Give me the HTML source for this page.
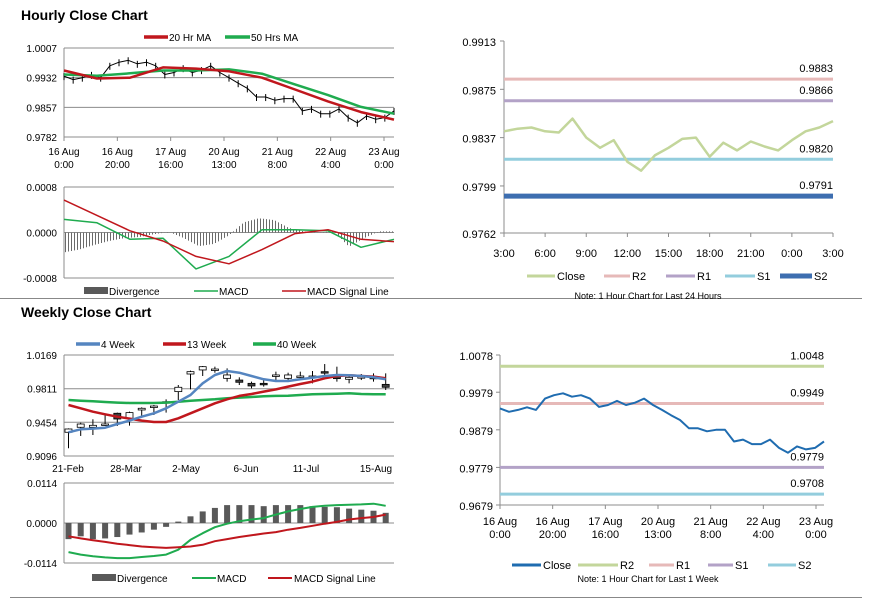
<!DOCTYPE html>
<html><head><meta charset="utf-8">
<style>
body{margin:0;background:#fff;}
svg{display:block;font-family:"Liberation Sans",Arial,sans-serif;}
text{fill:#000;}
</style></head>
<body>
<svg id="c" width="873" height="601" viewBox="0 0 873 601" xmlns="http://www.w3.org/2000/svg">
<text x="21" y="20" font-size="14" font-weight="bold">Hourly Close Chart</text>
<text x="21" y="317" font-size="14" font-weight="bold">Weekly Close Chart</text>
<line x1="0" y1="298.5" x2="862" y2="298.5" stroke="#888" stroke-width="1"/>
<line x1="10" y1="597.5" x2="862" y2="597.5" stroke="#888" stroke-width="1"/>
<g id="root"></g>
</svg>
<script>
// ---------- data ----------
const hourlyClose=[0.9936,0.9927,0.9932,0.9939,0.9932,0.9962,0.9971,0.9976,0.9967,0.9971,0.9962,0.9940,0.9945,0.9956,0.9945,0.9951,0.9962,0.9945,0.9932,0.9918,0.9905,0.9883,0.9883,0.9875,0.9879,0.9879,0.9848,0.9853,0.9841,0.9841,0.9853,0.9831,0.9818,0.9835,0.9827,0.9831,0.9848];
const ma20=[0.9950,0.9930,0.9932,0.9958,0.9955,0.9948,0.9932,0.9902,0.9872,0.9845,0.9826];
const ma50=[0.9940,0.9937,0.9943,0.9950,0.9950,0.9953,0.9942,0.9915,0.9888,0.9858,0.9841];
const hMacd=[0.00023,0.00017,-0.00012,-0.00010,-0.00064,-0.00042,0.00005,0.00005,0.00003,-0.00026,-0.00012];
const hSignal=[0.00057,0.00030,0.00003,-0.00015,-0.00042,-0.00055,-0.00030,-0.00002,0.00005,-0.00012,-0.00016];
const hDiv=[-0.00035,-0.0003,-0.00022,-0.00015,-0.0001,-0.00008,-0.00003,0.00001,-0.0001,-0.00024,-0.0002,-0.00005,0.00018,0.00025,0.00022,0.00008,0.00002,0,0.00002,-0.00025,-0.0001,0.00002,0.00002];
const hourlyXLabels=[["16 Aug","0:00"],["16 Aug","20:00"],["17 Aug","16:00"],["20 Aug","13:00"],["21 Aug","8:00"],["22 Aug","4:00"],["23 Aug","0:00"]];
const hourlyYTicks=[1.0007,0.9932,0.9857,0.9782];
const hMacdTicks=[0.0008,0,-0.0008];

const dayClose=[0.9842,0.9844,0.9845,0.9842,0.9841,0.9852,0.9837,0.9829,0.9835,0.9818,0.9811,0.9823,0.9829,0.9836,0.9837,0.9822,0.9833,0.9827,0.9834,0.9830,0.9827,0.9835,0.9842,0.9845,0.9850];
const dayLevels=[0.9883,0.9866,0.9820,0.9791];
const dayYTicks=[0.9913,0.9875,0.9837,0.9799,0.9762];
const dayXLabels=["3:00","6:00","9:00","12:00","15:00","18:00","21:00","0:00","3:00"];

const wOpen=[0.9348,0.9401,0.9401,0.9426,0.9550,0.9496,0.9585,0.9613,0.9663,0.9780,0.9967,1.0010,1.0010,0.9921,0.9903,0.9868,0.9868,0.9946,0.9921,0.9939,0.9939,0.9992,0.9939,0.9911,0.9932,0.9932,0.9857];
const wClose=[0.9383,0.9436,0.9422,0.9436,0.9489,0.9557,0.9603,0.9627,0.9673,0.9826,0.9992,1.0045,1.0020,0.9957,0.9879,0.9840,0.9861,0.9957,0.9957,0.9946,0.9946,0.9981,0.9918,0.9932,0.9939,0.9925,0.9826];
const wHigh=[0.9390,0.9450,0.9486,0.9532,0.9557,0.9567,0.9613,0.9638,0.9698,0.9850,1.0003,1.0052,1.0045,1.0027,0.9932,0.9886,0.9903,0.9992,0.9981,0.9992,0.9999,1.0073,1.0045,0.9967,0.9967,0.9974,0.9974];
const wLow=[0.9178,0.9309,0.9319,0.9415,0.9415,0.9419,0.9514,0.9532,0.9557,0.9691,0.9804,0.9946,0.9981,0.9886,0.9850,0.9815,0.9833,0.9903,0.9886,0.9903,0.9868,0.9957,0.9886,0.9868,0.9903,0.9886,0.9797];
const ma4=[0.9348,0.9380,0.9387,0.9397,0.9436,0.9472,0.9514,0.9550,0.9603,0.9673,0.9744,0.9868,0.9957,0.9999,0.9981,0.9946,0.9911,0.9893,0.9893,0.9911,0.9928,0.9946,0.9957,0.9953,0.9946,0.9932,0.9911];
const ma13=[0.9638,0.9603,0.9567,0.9539,0.9514,0.9493,0.9472,0.9457,0.9457,0.9496,0.9550,0.9603,0.9656,0.9698,0.9734,0.9755,0.9780,0.9804,0.9833,0.9861,0.9886,0.9921,0.9946,0.9953,0.9946,0.9939,0.9921];
const ma40=[0.9691,0.9684,0.9677,0.9670,0.9663,0.9659,0.9659,0.9659,0.9663,0.9673,0.9684,0.9691,0.9698,0.9709,0.9716,0.9723,0.9730,0.9734,0.9737,0.9744,0.9751,0.9755,0.9758,0.9762,0.9755,0.9751,0.9751];
const wMacd=[-0.0083,-0.0090,-0.0095,-0.0098,-0.0100,-0.0100,-0.0097,-0.0094,-0.0090,-0.0076,-0.0048,-0.0029,-0.0012,-0.0002,0.0005,0.0010,0.0014,0.0024,0.0033,0.0040,0.0046,0.0049,0.0051,0.0052,0.0053,0.0055,0.0049];
const wSignal=[-0.0038,-0.0044,-0.0049,-0.0054,-0.0059,-0.0063,-0.0067,-0.0069,-0.0071,-0.0069,-0.0067,-0.0062,-0.0052,-0.0046,-0.0040,-0.0035,-0.0030,-0.0026,-0.0019,-0.0014,-0.0008,-0.0002,0.0003,0.0010,0.0014,0.0017,0.0024];
const wDiv=[-0.0046,-0.0038,-0.0046,-0.0044,-0.0040,-0.0033,-0.0027,-0.0019,-0.0011,0.0004,0.0019,0.0033,0.0043,0.0051,0.0051,0.0051,0.0048,0.0051,0.0051,0.0051,0.0048,0.0046,0.0045,0.0041,0.0038,0.0035,0.0029];
const weeklyYTicks=[1.0169,0.9811,0.9454,0.9096];
const weeklyXLabels=["21-Feb","28-Mar","2-May","6-Jun","11-Jul","15-Aug"];
const wMacdTicks=[0.0114,0,-0.0114];

const weekLevels=[1.0048,0.9949,0.9779,0.9708];
const weekYTicks=[1.0078,0.9979,0.9879,0.9779,0.9679];

// ---------- helpers ----------
const NS="http://www.w3.org/2000/svg";
const root=document.getElementById('root');
function mk(tag,attrs,parent){const e=document.createElementNS(NS,tag);for(const k in attrs)e.setAttribute(k,attrs[k]);(parent||root).appendChild(e);return e;}
function scale(d0,d1,r0,r1){return v=>r0+(v-d0)/(d1-d0)*(r1-r0);}
function txt(x,y,s,size,anchor,name){const t=mk('text',{x:x,y:y,'font-size':size,'text-anchor':anchor||'start'});t.textContent=s;


return t;}
function line(x1,y1,x2,y2,stroke,w,name){const l=mk('line',{x1:x1,y1:y1,x2:x2,y2:y2,stroke:stroke,'stroke-width':w});


return l;}
function poly(vals,xf,yf,stroke,w,name){const p=vals.map((v,i)=>xf(i).toFixed(1)+','+yf(v).toFixed(1)).join(' ');
const e=mk('polyline',{points:p,fill:'none',stroke:stroke,'stroke-width':w,'stroke-linejoin':'round'});


return e;}
function fmt(v){return v.toFixed(4);}
const RED="#c0171d",GREEN="#1fab4f",BLUE="#5585c0",GRID="#8c8c8c";

// ---------- hourly main (top-left) ----------
{
const X0=64,X1=394;
const y=scale(0.9782,1.0007,137,48);
hourlyYTicks.forEach(t=>{line(X0,y(t),X1,y(t),GRID,1,'hourly-gridline');txt(57,y(t)+4,fmt(t),10,'end','hourly-y-tick');});
line(X0,48,X0,137,GRID,1,'hourly-y-axis');
hourlyXLabels.forEach((l,i)=>{const xx=X0+i*(X1-X0-10)/6;line(xx,137,xx,141,GRID,1,'hourly-x-tick');txt(xx,155,l[0],10,'middle','hourly-x-label');txt(xx,168,l[1],10,'middle','hourly-x-label');});
const xc=i=>X0+i*(X1-X0)/(hourlyClose.length-1);
poly(hourlyClose,xc,y,'#000',1,'hourly-close-line');
hourlyClose.forEach((v,i)=>{line(xc(i),y(v)-3,xc(i),y(v)+4,'#000',1,'hourly-candle');});
const xm=i=>X0+i*(X1-X0)/(ma20.length-1);
poly(ma50,xm,y,GREEN,2.5,'ma50-line');
poly(ma20,xm,y,RED,2.5,'ma20-line');
line(144,37,168,37,RED,3.5,'legend-ma20-swatch');txt(169,41,'20 Hr MA',10,'start','legend-ma20');
line(225,37,250,37,GREEN,3.5,'legend-ma50-swatch');txt(251,41,'50 Hrs MA',10,'start','legend-ma50');
}
// ---------- hourly MACD ----------
{
const X0=64,X1=394;
const y=scale(-0.0008,0.0008,278,187);
hMacdTicks.forEach(t=>{line(X0,y(t),X1,y(t),GRID,1,'hmacd-gridline');txt(57,y(t)+4,fmt(t),10,'end','hmacd-y-tick');});
line(X0,187,X0,278,GRID,1,'hmacd-y-axis');
for(let px=X0+1.5;px<X1;px+=3){const f=(px-X0)/(X1-X0)*(hDiv.length-1);const i=Math.min(Math.floor(f),hDiv.length-2);const v=hDiv[i]+(hDiv[i+1]-hDiv[i])*(f-i);
const b=mk('line',{x1:px,y1:y(0),x2:px,y2:y(v),stroke:'#6a6a6a','stroke-width':1});

}
const xm=i=>X0+i*(X1-X0)/(hMacd.length-1);
poly(hMacd,xm,y,GREEN,1.5,'hmacd-line');
poly(hSignal,xm,y,RED,1.5,'hsignal-line');
mk('rect',{x:84,y:287,width:24,height:7,fill:'#595959',});
txt(109,295,'Divergence',10,'start','legend-hdiv');
line(194,291,218,291,GREEN,1.5,'legend-hmacd-swatch');txt(219,295,'MACD',10,'start','legend-hmacd');
line(282,291,306,291,RED,1.5,'legend-hsignal-swatch');txt(307,295,'MACD Signal Line',10,'start','legend-hsignal');
}
// ---------- 24h chart (top-right) ----------
{
const X0=504,X1=833;
const y=scale(0.9762,0.9913,233,41);
line(X0,41,X0,233,GRID,1,'day-y-axis');line(X0,233,X1,233,GRID,1,'day-x-axis');
dayYTicks.forEach(t=>{line(X0-4,y(t),X0,y(t),GRID,1,'day-y-tickmark');txt(496,y(t)+5,fmt(t),11,'end','day-y-tick');});
dayXLabels.forEach((l,i)=>{const xx=X0+i*(X1-X0)/8;line(xx,233,xx,237,GRID,1,'day-x-tickmark');txt(xx,257,l,11,'middle','day-x-label');});
const cols=["#e6b9b8","#b3a2c7","#93cddd","#3d6eb0"],ws=[3,3,3,5],nm=['r2','r1','s1','s2'];
dayLevels.forEach((v,i)=>{line(X0,y(v),X1,y(v),cols[i],ws[i],'day-'+nm[i]+'-line');txt(X1,y(v)-7,fmt(v),11,'end','day-'+nm[i]+'-label');});
const xc=i=>X0+i*(X1-X0)/(dayClose.length-1);
poly(dayClose,xc,y,'#c3d69b',2.5,'day-close-line');
const lg=[["Close","#c3d69b",527,555,3],["R2",cols[0],604,630,3],["R1",cols[1],666,695,3],["S1",cols[2],725,755,3],["S2",cols[3],780,812,5]];
lg.forEach(l=>{line(l[2],276,l[3],276,l[1],l[4],'legend-day-'+l[0].toLowerCase()+'-swatch');txt(l[3]+2,280,l[0],11,'start','legend-day-'+l[0].toLowerCase());});
txt(648,299,'Note: 1 Hour Chart for Last 24 Hours',9,'middle','day-note');
}
// ---------- weekly main (bottom-left) ----------
{
const X0=64,X1=394;
const y=scale(0.9096,1.0169,456,355);
weeklyYTicks.forEach(t=>{line(X0,y(t),X1,y(t),GRID,1,'weekly-gridline');txt(57,y(t)+4,fmt(t),10,'end','weekly-y-tick');});
line(X0,355,X0,456,GRID,1,'weekly-y-axis');
const xw=i=>68.5+i*12.2;
weeklyXLabels.forEach((l,i)=>{const xx=[68,126,186,246,306,376][i];txt(xx,472,l,10,'middle','weekly-x-label');});
wOpen.forEach((o,i)=>{const c=wClose[i];const cx=xw(i);
line(cx,y(wHigh[i]),cx,y(wLow[i]),'#000',1,'weekly-candle-wick');
const top=y(Math.max(o,c)),bot=y(Math.min(o,c));
const r=mk('rect',{x:cx-3.5,y:top,width:7,height:Math.max(bot-top,1.5),fill:c>=o?'#fff':'#404040',stroke:'#000','stroke-width':0.8});

});
poly(ma40,xw,y,GREEN,2.5,'ma40-line');
poly(ma13,xw,y,RED,2.5,'ma13-line');
poly(ma4,xw,y,BLUE,2.5,'ma4-line');
line(76,344,100,344,BLUE,3.5,'legend-ma4-swatch');txt(101,348,'4 Week',10,'start','legend-ma4');
line(163,344,186,344,RED,3.5,'legend-ma13-swatch');txt(187,348,'13 Week',10,'start','legend-ma13');
line(253,344,276,344,GREEN,3.5,'legend-ma40-swatch');txt(277,348,'40 Week',10,'start','legend-ma40');
}
// ---------- weekly MACD ----------
{
const X0=64,X1=394;
const y=scale(-0.0114,0.0114,563,483);
wMacdTicks.forEach(t=>{line(X0,y(t),X1,y(t),GRID,1,'wmacd-gridline');txt(57,y(t)+4,fmt(t),10,'end','wmacd-y-tick');});
line(X0,483,X0,563,GRID,1,'wmacd-y-axis');
const xw=i=>68.5+i*12.2;
wDiv.forEach((v,i)=>{const r=mk('rect',{x:xw(i)-3,y:Math.min(y(0),y(v)),width:6,height:Math.abs(y(v)-y(0)),fill:'#595959'});

});
poly(wMacd,xw,y,GREEN,2,'wmacd-line');
poly(wSignal,xw,y,RED,2,'wsignal-line');
mk('rect',{x:92,y:574,width:24,height:7,fill:'#595959',});
txt(117,582,'Divergence',10,'start','legend-wdiv');
line(192,578,216,578,GREEN,2,'legend-wmacd-swatch');txt(217,582,'MACD',10,'start','legend-wmacd');
line(268,578,292,578,RED,2,'legend-wsignal-swatch');txt(294,582,'MACD Signal Line',10,'start','legend-wsignal');
}
// ---------- week chart (bottom-right) ----------
{
const X0=500,X1=824;
const y=scale(0.9679,1.0078,505,355);
line(X0,355,X0,505,GRID,1,'week-y-axis');line(X0,505,X1,505,GRID,1,'week-x-axis');
weekYTicks.forEach(t=>{line(X0-4,y(t),X0,y(t),GRID,1,'week-y-tickmark');txt(493,y(t)+5,fmt(t),11,'end','week-y-tick');});
hourlyXLabels.forEach((l,i)=>{const xx=X0+i*(X1-X0-8)/6;line(xx,505,xx,509,GRID,1,'week-x-tickmark');txt(xx,525,l[0],11,'middle','week-x-label');txt(xx,538,l[1],11,'middle','week-x-label');});
const cols=["#c3d69b","#e6b9b8","#b3a2c7","#93cddd"],nm=['r2','r1','s1','s2'];
weekLevels.forEach((v,i)=>{line(X0,y(v),X1,y(v),cols[i],3,'week-'+nm[i]+'-line');txt(X1,y(v)-7,fmt(v),11,'end','week-'+nm[i]+'-label');});
const xc=i=>X0+i*(X1-X0)/(hourlyClose.length-1);
poly(hourlyClose,xc,y,'#1f6cb0',2,'week-close-line');
const lg=[["Close","#1f6cb0",512,541],["R2",cols[0],578,618],["R1",cols[1],649,674],["S1",cols[2],708,733],["S2",cols[3],768,796]];
lg.forEach(l=>{line(l[2],565,l[3],565,l[1],3,'legend-week-'+l[0].toLowerCase()+'-swatch');txt(l[3]+2,569,l[0],11,'start','legend-week-'+l[0].toLowerCase());});
txt(648,582,'Note: 1 Hour Chart for Last 1 Week',9,'middle','week-note');
}
</script>
</body></html>
